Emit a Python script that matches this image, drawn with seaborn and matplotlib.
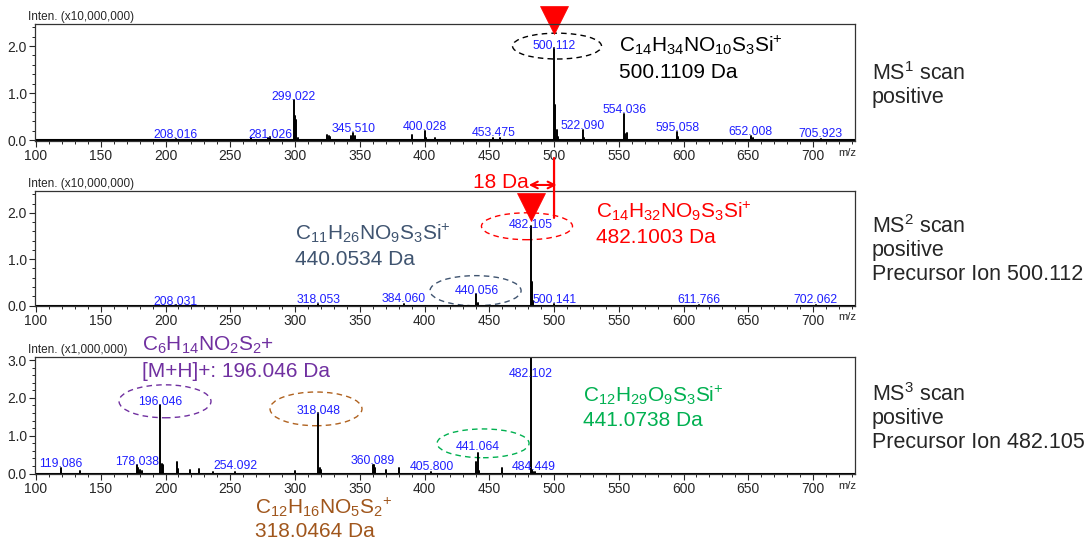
import pandas as pd
import matplotlib.pyplot as plt
import seaborn as sns
from matplotlib.patches import Ellipse, ConnectionPatch
from matplotlib.ticker import MultipleLocator, FormatStrFormatter

# MS1 scan, intensity in units of 10,000,000
ms1_mz = [208, 266, 279, 281, 299, 300, 301, 302, 325, 326, 327, 343, 345, 346,
          390, 400, 401, 408, 453, 458, 500, 501, 502, 503, 522, 523, 554, 555,
          556, 595, 596, 652, 654, 706]
ms1_int = [0.03, 0.04, 0.05, 0.06, 0.85, 0.52, 0.42, 0.05, 0.10, 0.08, 0.07, 0.08,
           0.15, 0.08, 0.10, 0.19, 0.05, 0.04, 0.04, 0.05, 1.95, 0.75, 0.22, 0.06,
           0.22, 0.05, 0.55, 0.12, 0.15, 0.18, 0.07, 0.08, 0.04, 0.02]
ms1_labels = ['208.016', '281.026', '299.022', '345.510', '400.028', '453.475',
              '500.112', '522.090', '554.036', '595.058', '652.008', '705.923']
ms1_label_y = [0.11, 0.11, 0.91, 0.23, 0.28, 0.15, 2.0, 0.30, 0.64, 0.26, 0.17, 0.13]

# MS2 scan, intensity in units of 10,000,000
ms2_mz = [208, 318, 384, 440, 441, 482, 483, 484, 500, 612, 702]
ms2_int = [0.005, 0.03, 0.04, 0.24, 0.05, 1.72, 0.50, 0.10, 0.03, 0.005, 0.005]
ms2_labels = ['208.031', '318.053', '384.060', '440.056', '482.105', '500.141',
              '611.766', '702.062']
ms2_label_y = [0.07, 0.13, 0.15, 0.32, 1.74, 0.13, 0.11, 0.11]

# MS3 scan, intensity in units of 1,000,000
ms3_mz = [119, 134, 178, 179, 180, 182, 196, 197, 198, 209, 210, 219, 226, 237,
          254, 300, 318, 319, 320, 360, 361, 362, 370, 380, 405, 440, 441, 442,
          460, 482, 483, 484, 485]
ms3_int = [0.16, 0.08, 0.22, 0.15, 0.10, 0.08, 1.82, 0.25, 0.22, 0.30, 0.12, 0.10,
           0.13, 0.05, 0.04, 0.08, 1.60, 0.15, 0.10, 0.23, 0.22, 0.15, 0.10, 0.15,
           0.03, 0.30, 0.55, 0.08, 0.15, 3.05, 0.10, 0.05, 0.03]
ms3_labels = ['119.086', '178.038', '196.046', '254.092', '318.048', '360.089',
              '405.800', '441.064', '482.102', '484.449']
ms3_label_y = [0.26, 0.32, 1.90, 0.21, 1.66, 0.34, 0.18, 0.71, 2.63, 0.18]

scales = ['Inten. (x10,000,000)', 'Inten. (x10,000,000)', 'Inten. (x1,000,000)']
scan_notes = ['MS$^1$ scan\npositive',
              'MS$^2$ scan\npositive\nPrecursor Ion 500.112',
              'MS$^3$ scan\npositive\nPrecursor Ion 482.105']

sns.set_theme(style='ticks')
plt.rcParams['font.family'] = ['Liberation Sans', 'DejaVu Sans']
plt.rcParams['mathtext.fontset'] = 'custom'
plt.rcParams['mathtext.rm'] = 'Liberation Sans'
plt.rcParams['mathtext.it'] = 'Liberation Sans:italic'
plt.rcParams['mathtext.bf'] = 'Liberation Sans:bold'

W, H = 1086, 541
fig = plt.figure(figsize=(W / 100, H / 100), dpi=100)


def px(x, y):
    return x / W, 1 - y / H


ax1 = fig.add_axes([35 / W, 1 - 141 / H, 820 / W, 117 / H])
ax2 = fig.add_axes([35 / W, 1 - 306 / H, 820 / W, 115 / H])
ax3 = fig.add_axes([35 / W, 1 - 474 / H, 820 / W, 117 / H])
axes = [ax1, ax2, ax3]
ylims = [(-0.02, 2.47), (-0.01, 2.47), (-0.01, 3.08)]
spectra = [(ms1_mz, ms1_int, ms1_labels, ms1_label_y),
           (ms2_mz, ms2_int, ms2_labels, ms2_label_y),
           (ms3_mz, ms3_int, ms3_labels, ms3_label_y)]
note_y = [85, 250, 418]

for ax, (mz, inten, labels, label_y), ylim, scale, note, ny in zip(
        axes, spectra, ylims, scales, scan_notes, note_y):
    # stems: each peak drawn as its own unit from 0 to its intensity
    df = pd.DataFrame({
        'mz': [m for m in mz for _ in range(2)],
        'inten': [v for h in inten for v in (0, h)],
        'peak': [i for i in range(len(mz)) for _ in range(2)],
    })
    sns.lineplot(data=df, x='mz', y='inten', units='peak', estimator=None,
                 sort=False, color='black', linewidth=1.4, ax=ax, legend=False)
    ax.axhline(0, color='black', lw=1.5)
    for lab, ly in zip(labels, label_y):
        ax.text(float(lab), ly, lab, ha='center', va='center', fontsize=8.8,
                color='#1f1fff')
    ax.set_xlim(99.2, 732.4)
    ax.set_ylim(*ylim)
    ax.set_xlabel('')
    ax.set_ylabel('')
    ax.xaxis.set_minor_locator(MultipleLocator(10))
    ax.yaxis.set_major_locator(MultipleLocator(1.0))
    ax.yaxis.set_minor_locator(MultipleLocator(0.2))
    ax.yaxis.set_major_formatter(FormatStrFormatter('%.1f'))
    ax.set_xticks([t for t in range(100, 701, 50)])
    ax.tick_params(which='major', direction='out', length=4, width=0.8,
                   labelsize=10, pad=2, right=False, top=False)
    ax.tick_params(which='minor', direction='out', length=2.5, width=0.7,
                   right=False, top=False)
    for s in ax.spines.values():
        s.set_linewidth(0.9)
        s.set_color('#333333')
    ax.text(-0.008, 1.005, scale, transform=ax.transAxes, ha='left',
            va='bottom', fontsize=8.5)
    ax.text(1.002, -0.1, 'm/z', transform=ax.transAxes, ha='right',
            va='center', fontsize=8)
    fig.text(*px(872, ny), note, ha='left', va='center', fontsize=15.5,
             linespacing=1.15)

dash = (0, (4, 3))
# ellipses around the annotated peaks
ax1.add_patch(Ellipse((502.3, 2.0), 68.7, 0.55, fill=False, ls=dash, lw=1,
                      ec='black', clip_on=False))
ax2.add_patch(Ellipse((479.1, 1.71), 70.3, 0.58, fill=False, ls=dash, lw=1,
                      ec='red', clip_on=False))
ax2.add_patch(Ellipse((439.4, 0.32), 70.3, 0.65, fill=False, ls=dash, lw=1,
                      ec='#3f5470', clip_on=False))
ax3.add_patch(Ellipse((199.6, 1.91), 71, 0.87, fill=False, ls=dash, lw=1,
                      ec='#7030a0', clip_on=False))
ax3.add_patch(Ellipse((316.2, 1.71), 71, 0.89, fill=False, ls=dash, lw=1,
                      ec='#b0621f', clip_on=False))
ax3.add_patch(Ellipse((445.2, 0.80), 71, 0.76, fill=False, ls=dash, lw=1,
                      ec='#00b050', clip_on=False))

# precursor markers
ax1.plot(500, 2.56, marker='v', ms=20, color='red', mec='red', mew=0.5,
         clip_on=False)
ax2.plot(482, 2.12, marker='v', ms=20, color='red', mec='red', mew=0.5,
         clip_on=False)

# link from MS1 precursor to MS2 and neutral loss
con = ConnectionPatch(xyA=(500, -0.145), coordsA=ax1.get_xaxis_transform(),
                      xyB=(500, 1.89), coordsB=ax2.transData,
                      color='red', lw=1.6)
fig.add_artist(con)
ax2.annotate('', xy=(480.5, 2.6), xytext=(502, 2.6),
             arrowprops=dict(arrowstyle='<->', color='red', lw=1.5,
                             shrinkA=0, shrinkB=0),
             annotation_clip=False)
fig.text(*px(473, 188), '18 Da', color='red', fontsize=15, va='baseline')

# formula annotations
big = 15
fig.text(*px(619, 52), r'C$_{14}$H$_{34}$NO$_{10}$S$_{3}$Si$^{+}$',
         fontsize=big, va='baseline', color='black')
fig.text(*px(619, 78), '500.1109 Da', fontsize=big, va='baseline', color='black')
fig.text(*px(295, 240), r'C$_{11}$H$_{26}$NO$_{9}$S$_{3}$Si$^{+}$',
         fontsize=big, va='baseline', color='#3f5470')
fig.text(*px(295, 265), '440.0534 Da', fontsize=big, va='baseline',
         color='#3f5470')
fig.text(*px(596, 218), r'C$_{14}$H$_{32}$NO$_{9}$S$_{3}$Si$^{+}$',
         fontsize=big, va='baseline', color='red')
fig.text(*px(596, 243), '482.1003 Da', fontsize=big, va='baseline', color='red')
fig.text(*px(142, 351), r'C$_{6}$H$_{14}$NO$_{2}$S$_{2}$+',
         fontsize=big, va='baseline', color='#7030a0')
fig.text(*px(142, 377), '[M+H]+: 196.046 Da', fontsize=big, va='baseline',
         color='#7030a0')
fig.text(*px(583, 402), r'C$_{12}$H$_{29}$O$_{9}$S$_{3}$Si$^{+}$',
         fontsize=big, va='baseline', color='#00b050')
fig.text(*px(583, 426), '441.0738 Da', fontsize=big, va='baseline',
         color='#00b050')
fig.text(*px(255, 514), r'C$_{12}$H$_{16}$NO$_{5}$S$_{2}$$^{+}$',
         fontsize=big, va='baseline', color='#a0561c')
fig.text(*px(255, 537), '318.0464 Da', fontsize=big, va='baseline',
         color='#a0561c')

fig.savefig('out.png', dpi=100, facecolor='white')
